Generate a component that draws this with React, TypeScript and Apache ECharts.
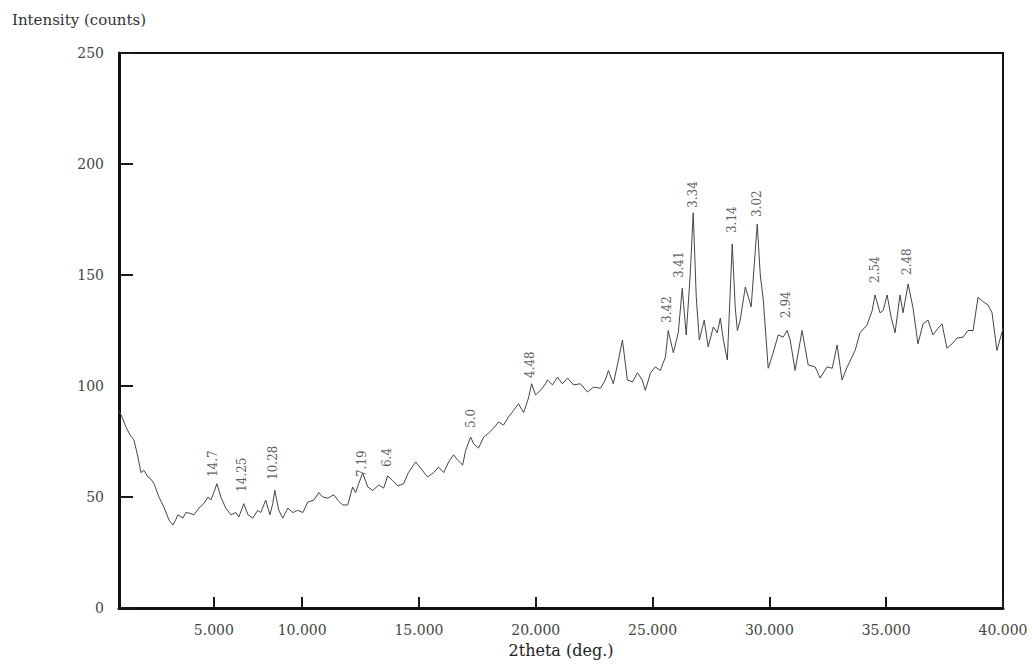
import React, { useEffect, useRef } from "react";
import * as echarts from "echarts";

// 2theta (deg.) and intensity (counts)
const twoTheta = [
  2.16, 2.29, 2.46, 2.63, 2.8, 2.97, 3.1, 3.23, 3.4, 3.53, 3.66, 3.87, 4.08, 4.3, 4.47, 4.6, 4.68, 4.9, 5.02, 5.15,
  5.37, 5.58, 5.79, 5.97, 6.09, 6.22, 6.35, 6.52, 6.73, 6.95, 7.16, 7.29, 7.5, 7.68, 7.89, 8.1, 8.23, 8.44, 8.62, 8.74,
  8.83, 9.0, 9.17, 9.39, 9.6, 9.81, 10.03, 10.24, 10.5, 10.71, 10.88, 11.1, 11.35, 11.57, 11.74, 11.95, 12.16, 12.29, 12.42, 12.59,
  12.81, 13.02, 13.28, 13.49, 13.66, 13.87, 14.09, 14.34, 14.55, 14.86, 15.07, 15.37, 15.63, 15.84, 16.06, 16.27, 16.48, 16.65, 16.87, 17.0,
  17.21, 17.34, 17.55, 17.77, 17.98, 18.19, 18.41, 18.62, 18.83, 19.05, 19.26, 19.48, 19.69, 19.82, 19.99, 20.2, 20.42, 20.5, 20.72, 20.93,
  21.14, 21.36, 21.61, 21.91, 22.21, 22.47, 22.77, 22.98, 23.11, 23.32, 23.54, 23.71, 23.92, 24.14, 24.35, 24.56, 24.69, 24.91, 25.12, 25.33,
  25.55, 25.67, 25.89, 26.1, 26.27, 26.44, 26.61, 26.74, 26.87, 27.0, 27.21, 27.38, 27.6, 27.77, 27.9, 28.03, 28.2, 28.41, 28.54, 28.63,
  28.75, 28.97, 29.1, 29.22, 29.48, 29.61, 29.74, 29.95, 30.16, 30.38, 30.59, 30.76, 30.89, 31.1, 31.4, 31.66, 31.96, 32.17, 32.47, 32.69,
  32.9, 33.11, 33.33, 33.67, 33.88, 34.18, 34.4, 34.52, 34.74, 34.87, 35.04, 35.21, 35.38, 35.59, 35.72, 35.94, 36.15, 36.36, 36.58, 36.79,
  37.0, 37.22, 37.39, 37.6, 37.82, 38.03, 38.29, 38.5, 38.72, 38.93, 39.14, 39.36, 39.53, 39.74, 39.95, 40.0,
];
const intensity = [
  89, 86, 81.5, 78, 75.7, 68, 61, 62, 59, 58, 56, 50, 45.5, 39.6, 37.4, 40, 42, 40.5, 43, 42.8,
  42, 45, 47, 50, 48.6, 52, 56, 50, 45, 42, 43, 41, 47, 42, 40.5, 44, 43, 48.6, 42, 47,
  53, 44, 40.5, 45, 43, 44, 43, 47.7, 48.6, 52, 50, 49.5, 51, 48, 46.4, 46.4, 54.5, 52, 56, 60.8,
  54.5, 53, 55.4, 54, 59.5, 57.5, 55, 56, 61, 65.8, 63, 59, 61, 63.5, 61, 65.8, 69, 66.7, 64.4, 71,
  77, 74, 72, 77, 78.8, 81, 83.8, 82.4, 86, 89, 92, 88, 94.6, 101, 96, 98, 101, 102.7, 100.5, 104,
  101, 103.6, 100.5, 101, 97.3, 99.5, 99, 102.7, 107, 101, 111.7, 120.7, 102.7, 101.8, 106, 102.7, 98, 105.9, 108.6, 107,
  113, 125, 115, 124, 144, 123, 150, 178, 140, 120.7, 129.7, 117.6, 126.6, 124, 130.6, 120.7, 111.7, 164, 135, 125,
  129.7, 144.6, 140, 135.6, 173, 150, 138.7, 108, 114.9, 123, 122, 125, 120.7, 107, 125, 109.5, 108.6, 103.6, 108.6, 108,
  118.5, 102.7, 108.6, 116, 124, 127.5, 134, 141, 132.9, 134, 141, 131, 124, 141, 133, 146, 135, 119, 128, 129.7,
  123, 126, 128, 117, 119, 121.6, 122, 125, 125, 140, 138, 136.5, 133, 116, 124, 126,
];

// d-spacing annotations: text, 2theta, intensity at the foot of the label
const peakTexts = ["14.7", "14.25", "10.28", "7.19", "6.4", "5.0", "4.48", "3.42", "3.41", "3.34", "3.14", "3.02", "2.94", "2.54", "2.48"];
const peakTheta = [6.18, 7.42, 8.74, 12.55, 13.62, 17.21, 19.77, 25.63, 26.14, 26.74, 28.41, 29.48, 30.72, 34.52, 35.89];
const peakLabelBase = [59, 52.3, 57.7, 59, 63.5, 81.1, 103.6, 128.4, 148.6, 180.2, 168.9, 176.1, 130.6, 146.4, 150];

// axis ticks as printed on the reference
const xTickValues = [6.22, 10, 15, 20, 25, 30, 35, 40];
const xTickLabels = ["5.000", "10.000", "15.000", "20.000", "25.000", "30.000", "35.000", "40.000"];
const xMin = 2.16;
const xMax = 40;
const yMin = 0;
const yMax = 250;
const yStep = 50;
const xTickLen = 5; // in intensity units (about 11 px)

const SERIF = "'DejaVu Serif', 'Liberation Serif', serif";
const TICK_COLOR = "#1a1a1a";

export default function App() {
  const ref = useRef<HTMLDivElement>(null);

  useEffect(() => {
    if (!ref.current) return;
    const chart = echarts.init(ref.current, undefined, { renderer: "svg" });
    const lineData = twoTheta.map((t, i) => [t, intensity[i]]);
    const labelData = peakTexts.map((txt, i) => ({ value: [peakTheta[i], peakLabelBase[i]], name: txt }));

    chart.setOption({
      animation: false,
      backgroundColor: "#ffffff",
      grid: { left: 119, right: 29, top: 53, bottom: 58, show: true, borderColor: "#111", borderWidth: 2 },
      graphic: [
        { type: "text", left: 12, top: 12, style: { text: "Intensity (counts)", font: `15px ${SERIF}`, fill: "#333" } },
      ],
      xAxis: {
        type: "value",
        min: xMin,
        max: xMax,
        name: "2theta (deg.)",
        nameLocation: "middle",
        nameGap: 34,
        nameTextStyle: { fontFamily: SERIF, fontSize: 16, color: "#222" },
        splitLine: { show: false },
        axisLine: { show: true, lineStyle: { color: "#111", width: 3 } },
        axisTick: { show: false },
        axisLabel: {
          customValues: xTickValues,
          margin: 15,
          fontFamily: SERIF,
          fontSize: 14,
          color: "#444",
          formatter: (v: number) => {
            let best = 0;
            for (let i = 0; i < xTickValues.length; i++) {
              if (Math.abs(xTickValues[i] - v) < Math.abs(xTickValues[best] - v)) best = i;
            }
            return xTickLabels[best];
          },
        },
      },
      yAxis: {
        type: "value",
        min: yMin,
        max: yMax,
        interval: yStep,
        splitLine: { show: false },
        axisLine: { show: true, lineStyle: { color: "#111", width: 3 } },
        axisTick: { show: true, inside: true, length: 14, lineStyle: { color: TICK_COLOR, width: 2 } },
        axisLabel: { margin: 15, fontFamily: SERIF, fontSize: 14, color: "#444", showMaxLabel: true, showMinLabel: true },
      },
      series: [
        {
          type: "line",
          data: lineData,
          showSymbol: false,
          symbol: "none",
          lineStyle: { color: "#454545", width: 1 },
          z: 3,
          markLine: {
            silent: true,
            symbol: "none",
            label: { show: false },
            lineStyle: { color: TICK_COLOR, width: 2, type: "solid" },
            data: xTickValues.map((v) => [{ coord: [v, yMin] }, { coord: [v, yMin + xTickLen] }]),
          },
        },
        {
          type: "scatter",
          data: labelData,
          symbolSize: 0,
          silent: true,
          z: 4,
          label: {
            show: true,
            position: [0, 0],
            rotate: 90,
            align: "left",
            verticalAlign: "middle",
            fontFamily: SERIF,
            fontSize: 12,
            color: "#333",
            formatter: (p: any) => p.name,
          },
        },
      ],
    });

    return () => chart.dispose();
  }, []);

  return <div ref={ref} style={{ position: "fixed", left: 0, top: 0, width: 1032, height: 666, background: "#fff" }} />;
}
